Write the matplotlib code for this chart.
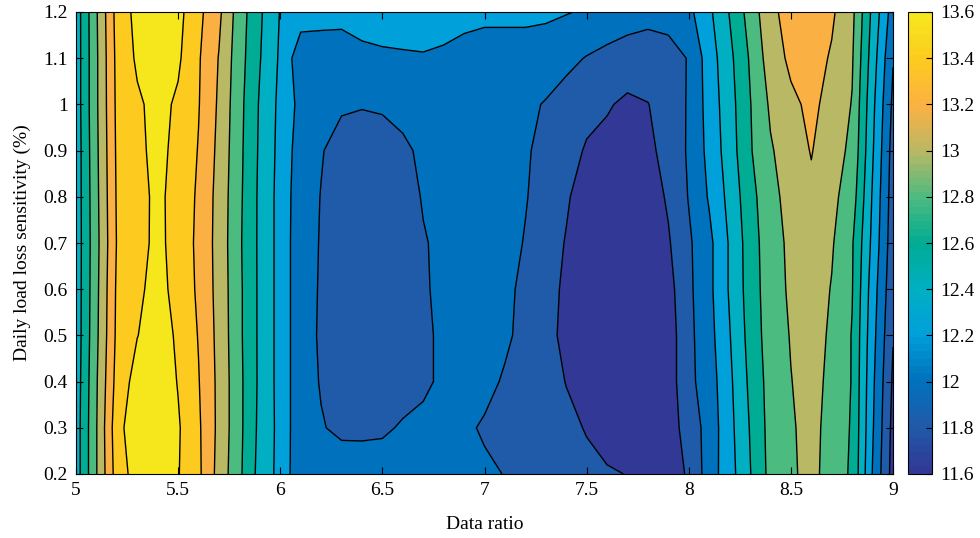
import numpy as np
import matplotlib.pyplot as plt
from matplotlib.colors import LinearSegmentedColormap, Normalize
from matplotlib.cm import ScalarMappable
from matplotlib.ticker import FormatStrFormatter

plt.rcParams['font.family'] = ['Liberation Serif', 'DejaVu Serif']

# grid of the surface
ratio = [5.0, 5.1, 5.2, 5.3, 5.4, 5.5, 5.6, 5.7, 5.8, 5.9,
         6.0, 6.1, 6.2, 6.3, 6.4, 6.5, 6.6, 6.7, 6.8, 6.9,
         7.0, 7.1, 7.2, 7.3, 7.4, 7.5, 7.6, 7.7, 7.8, 7.9,
         8.0, 8.1, 8.2, 8.3, 8.4, 8.5, 8.6, 8.7, 8.8, 8.9, 9.0]
sens = [0.2, 0.3, 0.4, 0.5, 0.6, 0.7, 0.8, 0.9, 1.0, 1.1, 1.2]

# one row per sensitivity value, columns follow ratio
z_02 = [12.5, 12.99, 13.49, 13.69, 13.75, 13.61, 13.44, 13.13, 12.84, 12.53,
        12.34, 12.05, 12.07, 12.08, 12.1, 12.1, 12.1, 12.1, 12.08, 12.06,
        12.03, 11.995, 11.94, 11.9, 11.86, 11.84, 11.82, 11.795, 11.74, 11.72,
        11.82, 12.1, 12.32, 12.59, 12.86, 12.97, 13.06, 12.91, 12.77, 12.19, 11.72]
z_03 = [12.5, 12.99, 13.52, 13.75, 13.78, 13.62, 13.43, 13.15, 12.85, 12.55,
        12.34, 12.06, 12.01, 11.97, 11.96, 11.97, 12.02, 12.04, 12.05, 12.03,
        11.98, 11.95, 11.92, 11.88, 11.84, 11.79, 11.72, 11.68, 11.68, 11.71,
        11.88, 12.08, 12.34, 12.61, 12.87, 12.98, 13.06, 12.93, 12.78, 12.22, 11.74]
z_04 = [12.49, 12.98, 13.47, 13.68, 13.73, 13.59, 13.41, 13.15, 12.85, 12.56,
        12.33, 12.07, 11.99, 11.92, 11.9, 11.9, 11.92, 11.97, 12.03, 12.06,
        12.05, 11.98, 11.92, 11.87, 11.795, 11.71, 11.66, 11.64, 11.65, 11.7,
        11.95, 12.1, 12.36, 12.64, 12.88, 12.995, 13.07, 12.95, 12.79, 12.24, 11.77]
z_05 = [12.48, 12.96, 13.44, 13.595, 13.695, 13.57, 13.39, 13.14, 12.84, 12.56,
        12.33, 12.07, 11.98, 11.91, 11.89, 11.89, 11.91, 11.96, 12.04, 12.08,
        12.07, 12.03, 11.95, 11.85, 11.76, 11.68, 11.64, 11.63, 11.65, 11.7,
        11.95, 12.13, 12.39, 12.67, 12.9, 13.01, 13.08, 12.97, 12.79, 12.27, 11.81]
z_06 = [12.48, 12.95, 13.43, 13.56, 13.67, 13.53, 13.37, 13.13, 12.84, 12.56,
        12.33, 12.07, 11.985, 11.92, 11.9, 11.9, 11.92, 11.98, 12.04, 12.08,
        12.08, 12.04, 11.96, 11.86, 11.77, 11.69, 11.65, 11.64, 11.66, 11.73,
        11.96, 12.15, 12.42, 12.69, 12.91, 13.03, 13.1, 12.99, 12.81, 12.3, 11.85]
z_07 = [12.48, 12.94, 13.41, 13.53, 13.65, 13.52, 13.36, 13.125, 12.83, 12.56,
        12.33, 12.07, 11.99, 11.93, 11.91, 11.91, 11.93, 11.99, 12.03, 12.08,
        12.09, 12.06, 11.99, 11.88, 11.79, 11.7, 11.67, 11.66, 11.68, 11.78,
        11.97, 12.15, 12.42, 12.7, 12.92, 13.04, 13.12, 13.02, 12.82, 12.35, 11.88]
z_08 = [12.48, 12.95, 13.42, 13.54, 13.64, 13.53, 13.37, 13.13, 12.84, 12.56,
        12.33, 12.08, 11.995, 11.93, 11.91, 11.91, 11.94, 12.01, 12.07, 12.1,
        12.09, 12.06, 12.01, 11.93, 11.82, 11.72, 11.69, 11.68, 11.7, 11.825,
        12.01, 12.22, 12.46, 12.73, 12.94, 13.07, 13.16, 13.05, 12.9, 12.38, 11.9]
z_09 = [12.48, 12.96, 13.43, 13.56, 13.65, 13.55, 13.39, 13.15, 12.85, 12.57,
        12.34, 12.1, 12.01, 11.94, 11.92, 11.93, 11.97, 12.03, 12.08, 12.1,
        12.09, 12.06, 12.02, 11.95, 11.88, 11.78, 11.74, 11.72, 11.74, 11.89,
        12.02, 12.26, 12.5, 12.78, 12.98, 13.1, 13.21, 13.08, 12.96, 12.42, 11.92]
z_10 = [12.49, 12.97, 13.44, 13.57, 13.66, 13.57, 13.41, 13.17, 12.86, 12.58,
        12.35, 12.14, 12.06, 12.02, 12.01, 12.02, 12.05, 12.08, 12.1, 12.1,
        12.08, 12.06, 12.03, 11.99, 11.92, 11.86, 11.82, 11.76, 11.795, 11.88,
        12.02, 12.28, 12.52, 12.79, 13.03, 13.16, 13.24, 13.14, 12.99, 12.45, 11.96]
z_11 = [12.49, 12.97, 13.45, 13.63, 13.7, 13.63, 13.42, 13.19, 12.88, 12.61,
        12.37, 12.07, 12.08, 12.1, 12.14, 12.16, 12.17, 12.18, 12.16, 12.12,
        12.1, 12.1, 12.1, 12.08, 12.05, 11.99, 11.95, 11.92, 11.9, 11.93,
        12.01, 12.3, 12.55, 12.82, 13.1, 13.24, 13.28, 13.18, 13.02, 12.5, 12.01]
z_12 = [12.49, 12.98, 13.47, 13.66, 13.72, 13.66, 13.45, 13.24, 12.9, 12.63,
        12.39, 12.3, 12.28, 12.26, 12.3, 12.32, 12.33, 12.33, 12.3, 12.27,
        12.25, 12.25, 12.25, 12.24, 12.21, 12.18, 12.12, 12.08, 12.06, 12.07,
        12.15, 12.36, 12.61, 12.88, 13.15, 13.28, 13.32, 13.23, 13.05, 12.55, 12.1]

levels = [11.6, 11.8, 12.0, 12.2, 12.4, 12.6, 12.8, 13.0, 13.2, 13.4, 13.6, 13.8]
band_colors = ['#323895', '#1f5ba9', '#0072bd', '#00a0da', '#00afc1', '#00ac93',
               '#4cbb7f', '#b8b865', '#fbb044', '#fdca20', '#f6e71d']
cbar_ticks = [11.6, 11.8, 12.0, 12.2, 12.4, 12.6, 12.8, 13.0, 13.2, 13.4, 13.6]

Z = np.array([z_02, z_03, z_04, z_05, z_06, z_07, z_08, z_09, z_10, z_11, z_12])
X, Y = np.meshgrid(ratio, sens)

fig = plt.figure(figsize=(9.8, 5.38), dpi=100)
ax = fig.add_axes([76 / 980, 64 / 538, 817 / 980, 462 / 538])
cax = fig.add_axes([908 / 980, 64 / 538, 24 / 980, 462 / 538])

ax.contourf(X, Y, Z, levels=levels, colors=band_colors)
ax.contour(X, Y, Z, levels=levels[1:-1], colors='k', linewidths=1.0)

ax.set_xlim(5, 9)
ax.set_ylim(0.2, 1.2)
ax.set_xticks([5, 5.5, 6, 6.5, 7, 7.5, 8, 8.5, 9])
ax.set_yticks(sens)
ax.xaxis.set_major_formatter(FormatStrFormatter('%g'))
ax.yaxis.set_major_formatter(FormatStrFormatter('%g'))
ax.tick_params(direction='in', top=True, right=True, length=5, width=0.8,
               labelsize=14, pad=6)
for s in ax.spines.values():
    s.set_linewidth(0.8)
ax.set_xlabel('Data ratio', fontsize=14, labelpad=12)
ax.set_ylabel('Daily load loss sensitivity (%)', fontsize=14, labelpad=9)

cmap = LinearSegmentedColormap.from_list('bands', band_colors, N=64)
sm = ScalarMappable(norm=Normalize(11.6, 13.6), cmap=cmap)
cb = fig.colorbar(sm, cax=cax)
cb.set_ticks(cbar_ticks)
cb.ax.yaxis.set_major_formatter(FormatStrFormatter('%g'))
cax.tick_params(direction='in', length=4, width=0.8, labelsize=14, pad=6)
cb.outline.set_linewidth(0.8)

fig.savefig('out.png', dpi=100)
